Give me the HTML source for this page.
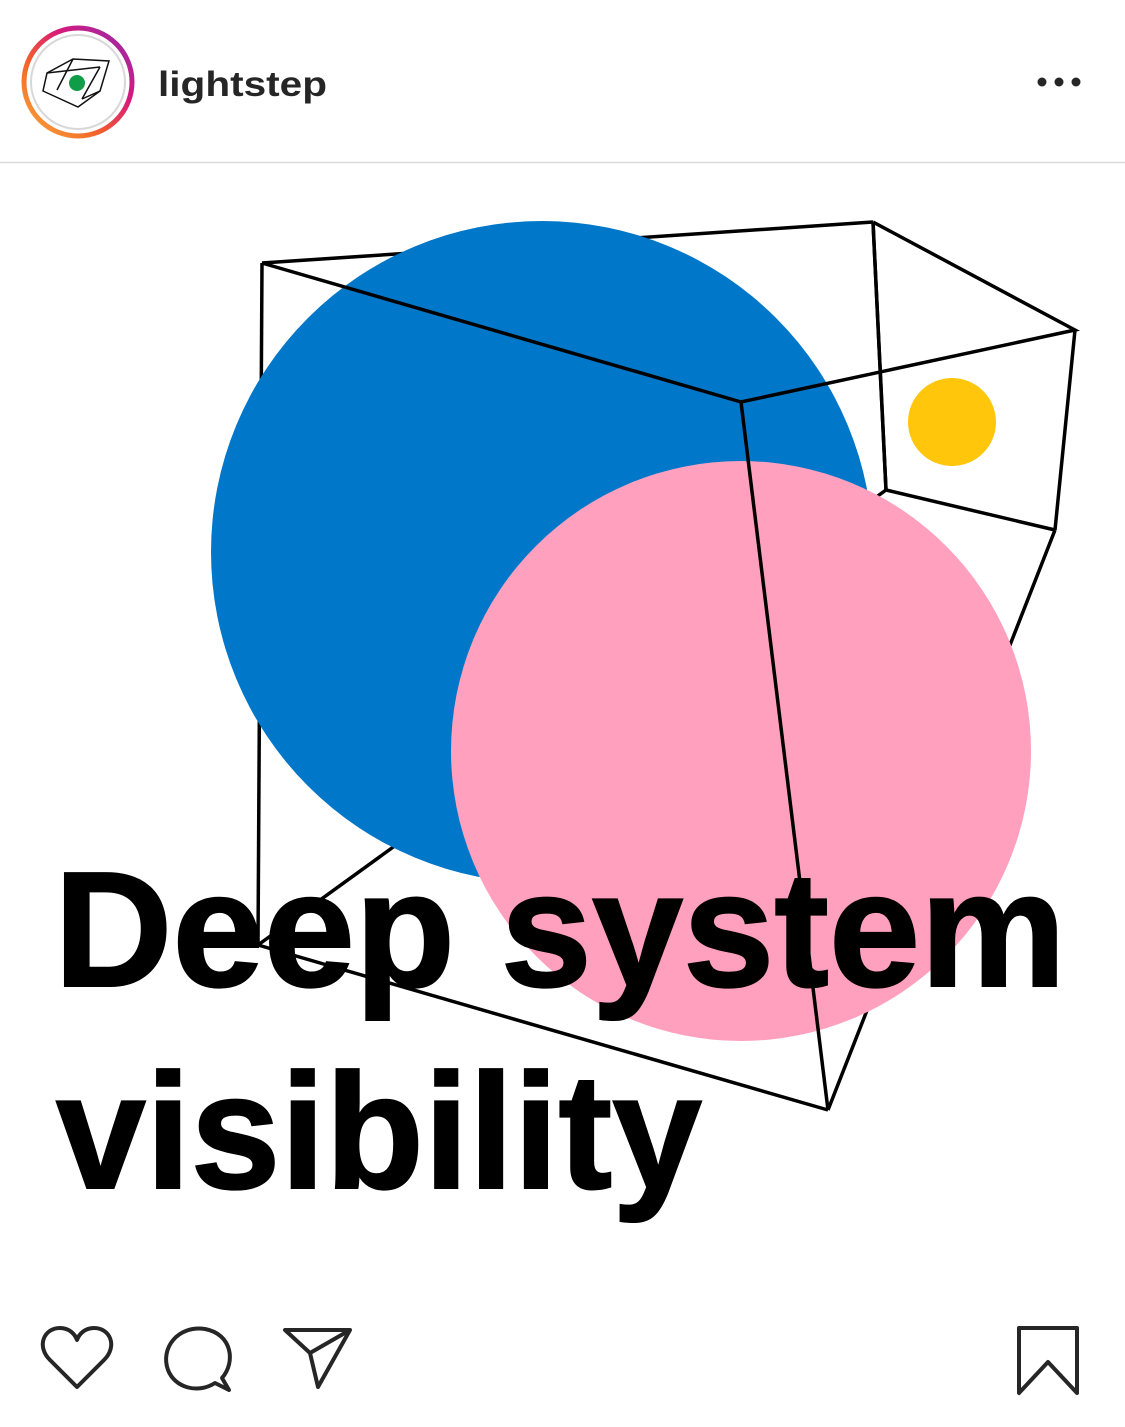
<!DOCTYPE html>
<html><head><meta charset="utf-8"><style>
html,body{margin:0;padding:0;background:#fff;width:1125px;height:1427px;overflow:hidden}
svg{display:block}
</style></head><body>
<svg width="1125" height="1427" viewBox="0 0 1125 1427" xmlns="http://www.w3.org/2000/svg">
<defs>
<linearGradient id="ig" x1="0" y1="1" x2="1" y2="0">
<stop offset="0" stop-color="#fbad3b"/><stop offset="0.35" stop-color="#f2642a"/><stop offset="0.65" stop-color="#d8197a"/><stop offset="1" stop-color="#8e2fb0"/>
</linearGradient>
</defs>
<circle cx="78" cy="82" r="54" fill="none" stroke="url(#ig)" stroke-width="5"/>
<circle cx="78" cy="82" r="47" fill="none" stroke="#d8d8d8" stroke-width="2"/>
<g fill="none" stroke="#111" stroke-width="1.5">
<polygon points="73,59 109,61 100,91 78,107 43,91 47,73"/>
<line x1="47" y1="73" x2="100" y2="67"/><line x1="57" y1="90" x2="73" y2="59"/><line x1="100" y1="67" x2="82" y2="99"/><line x1="82" y1="99" x2="100" y2="91"/>
</g>
<circle cx="77" cy="83" r="8" fill="#0f9d48"/>
<text x="158" y="96" font-family="Liberation Sans, sans-serif" font-weight="bold" font-size="35" fill="#262626" textLength="169" lengthAdjust="spacingAndGlyphs">lightstep</text>
<circle cx="1042" cy="82" r="4.5" fill="#262626"/><circle cx="1059" cy="82" r="4.5" fill="#262626"/><circle cx="1076" cy="82" r="4.5" fill="#262626"/>
<line x1="0" y1="162.5" x2="1125" y2="162.5" stroke="#dbdbdb" stroke-width="1.5"/>
<g fill="none" stroke="#000" stroke-width="3.5">
<line x1="262" y1="263" x2="873" y2="222"/>
<line x1="262" y1="263" x2="258" y2="945"/>
<line x1="258" y1="945" x2="886" y2="490"/>
<line x1="886" y1="490" x2="1055" y2="530"/>
<line x1="873" y1="222" x2="886" y2="490"/>
<line x1="1055" y1="530" x2="828" y2="1110"/>
</g>
<circle cx="542" cy="552" r="331" fill="#0077c8"/>
<circle cx="741" cy="751" r="290" fill="#ffa0bf"/>
<circle cx="952" cy="422" r="44" fill="#ffc60b"/>
<g fill="none" stroke="#000" stroke-width="3.5">
<polyline points="262,263 741,402 1075,330 873,222"/>
<line x1="873" y1="222" x2="886" y2="490"/>
<line x1="1075" y1="330" x2="1055" y2="530"/>
<line x1="741" y1="402" x2="828" y2="1110"/>
<line x1="258" y1="945" x2="828" y2="1110"/>
</g>
<g font-family="Liberation Sans, sans-serif" font-weight="bold" fill="#000" stroke="#000" stroke-width="2">
<text x="54" y="986" font-size="164" textLength="1012" lengthAdjust="spacingAndGlyphs">Deep system</text>
<text x="56" y="1188" font-size="164" textLength="646" lengthAdjust="spacingAndGlyphs">visibility</text>
</g>
<g fill="none" stroke="#262626" stroke-width="4" stroke-linejoin="round">
<path d="M77,1387 L50,1360 C36,1346 44,1328 60,1328 C69,1328 75,1334 77,1340 C79,1334 85,1328 94,1328 C110,1328 118,1346 104,1360 Z"/>
<path d="M222,1378 C236,1362 232,1334 205,1329 C178,1325 160,1348 168,1370 C175,1388 198,1394 215,1383 L229,1390 Z"/>
<path d="M285,1330 L350,1330 L318,1387 L310,1353 Z M310,1353 L350,1330"/>
<path d="M1019,1328 L1077,1328 L1077,1393 L1048,1362 L1019,1393 Z"/>
</g>
</svg>
</body></html>
